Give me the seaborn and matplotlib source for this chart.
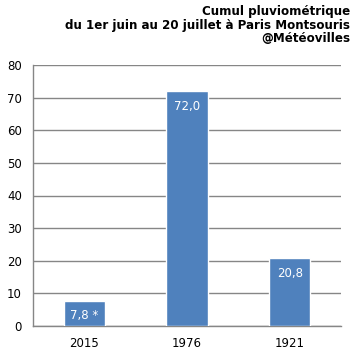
import matplotlib
matplotlib.use('Agg')
import matplotlib.pyplot as plt
import seaborn as sns
import pandas as pd

years = ['2015', '1976', '1921']
rain = [7.8, 72.0, 20.8]
labels = ['7,8 *', '72,0', '20,8']
title_lines = ['Cumul pluviométrique',
               'du 1er juin au 20 juillet à Paris Montsouris',
               '@Météovilles']

sns.set_style('white')
plt.rcParams['font.family'] = ['DejaVu Sans']
plt.rcParams['text.color'] = 'black'

df = pd.DataFrame({'annee': years, 'mm': rain})

fig = plt.figure(figsize=(3.55, 3.56), dpi=100)
ax = fig.add_axes([33 / 355, 30 / 356, 308 / 355, 261 / 356])

sns.barplot(data=df, x='annee', y='mm', color='#4F81BD', width=0.4,
            saturation=1, ax=ax, zorder=3)

ax.set_ylim(0, 80)
ax.set_yticks(range(0, 81, 10))
ax.yaxis.grid(True, color='#868686', linewidth=1, zorder=0)
ax.set_xlabel('')
ax.set_ylabel('')
for s in ['top', 'right']:
    ax.spines[s].set_visible(False)
for s in ['left', 'bottom']:
    ax.spines[s].set_color('#868686')
    ax.spines[s].set_linewidth(1)
ax.tick_params(axis='both', length=0, labelsize=8.5, colors='black', pad=8)

for i, (v, lab) in enumerate(zip(rain, labels)):
    ax.annotate(lab, (i, v), xytext=(0, -11), textcoords='offset points',
                ha='center', va='center', color='white', fontsize=8.5, zorder=4)

for k, line in enumerate(title_lines):
    fig.text(350 / 355, 1 - (11 + 14 * k) / 356, line, ha='right', va='center',
             fontsize=8.6, fontweight='bold', color='black')

fig.savefig('out.png', dpi=100)
